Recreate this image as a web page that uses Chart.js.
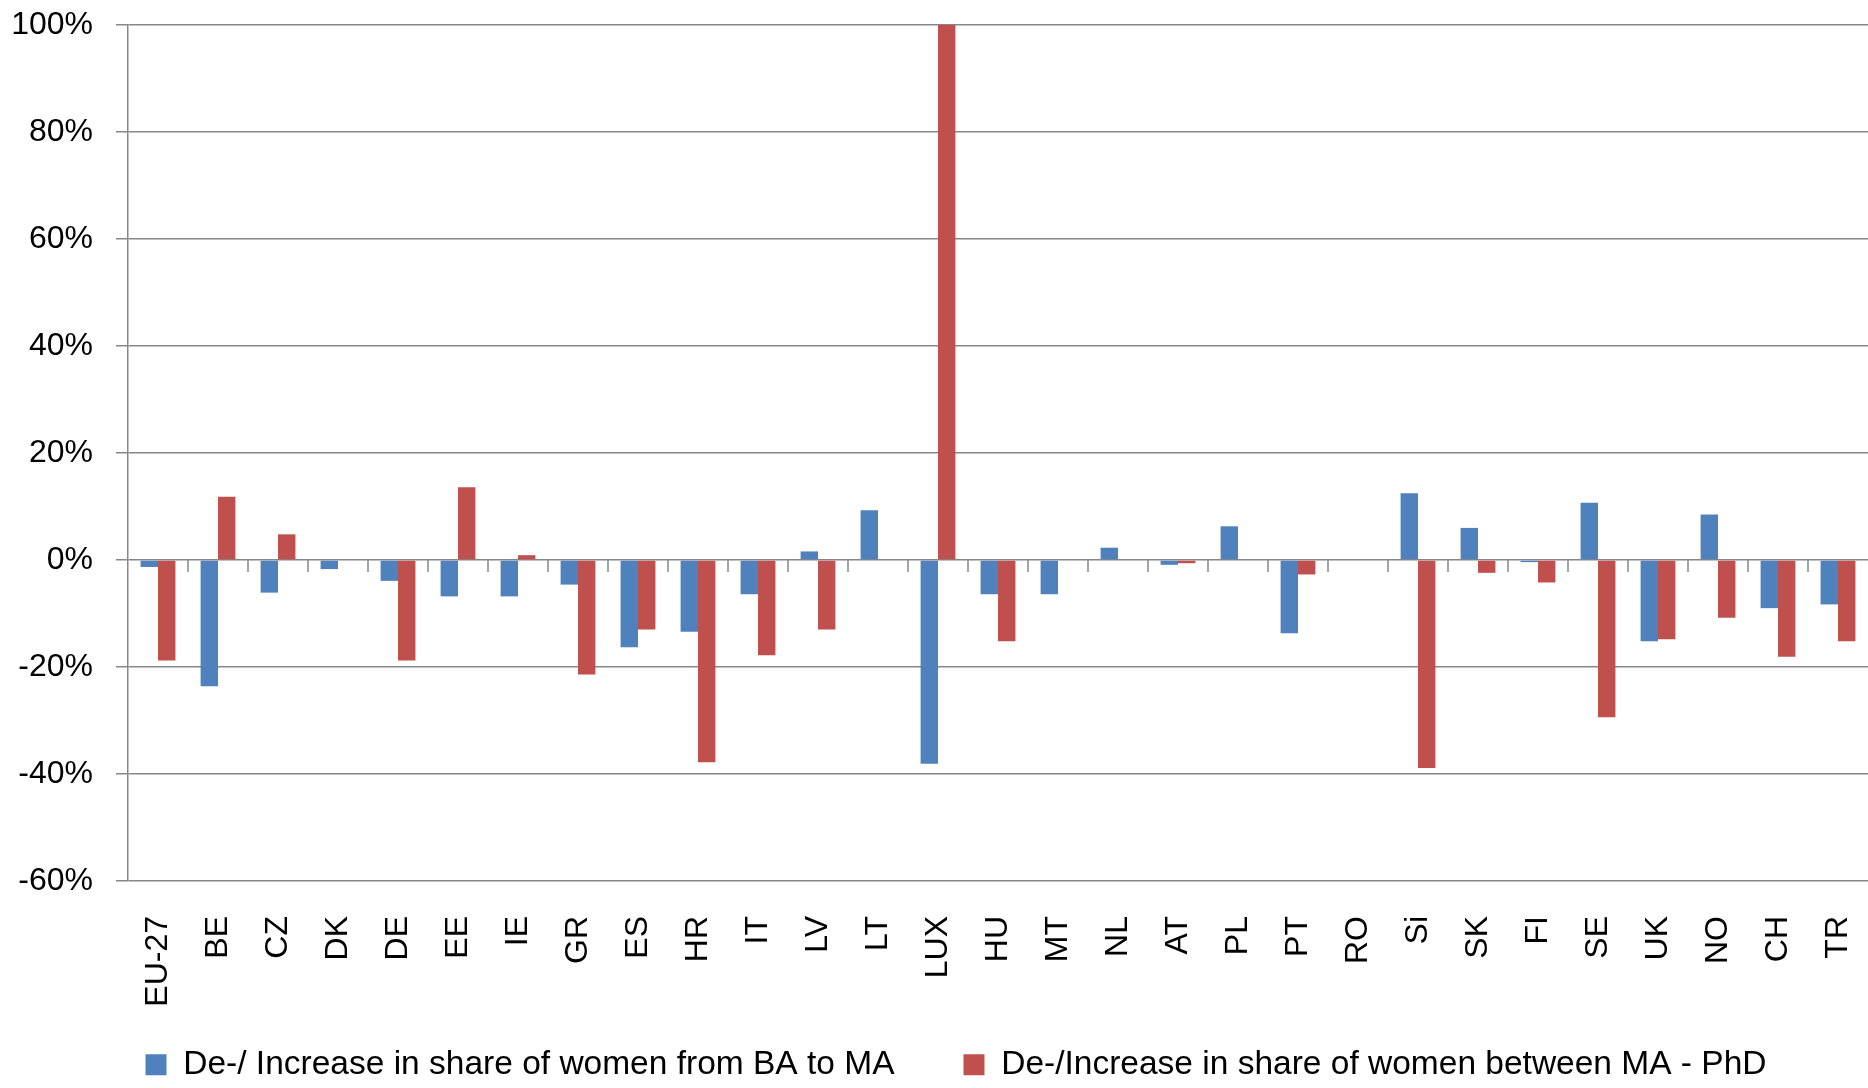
<!DOCTYPE html>
<html>
<head>
<meta charset="utf-8">
<title>Change in share of women by degree level</title>
<script src="https://cdn.jsdelivr.net/npm/chart.js@4/dist/chart.umd.min.js"></script>
<style>
  html, body { margin: 0; padding: 0; background: #ffffff; }
  #wrap { width: 1868px; height: 1088px; position: relative; }
</style>
</head>
<body>
<div id="wrap"><canvas id="chart"></canvas></div>
<script>
// Countries along the category axis
const countries = ['EU-27', 'BE', 'CZ', 'DK', 'DE', 'EE', 'IE', 'GR', 'ES', 'HR', 'IT', 'LV', 'LT', 'LUX',
  'HU', 'MT', 'NL', 'AT', 'PL', 'PT', 'RO', 'Si', 'SK', 'FI', 'SE', 'UK', 'NO', 'CH', 'TR'];

// Change (percentage points) in the share of women from BA to MA
const baToMa = [-1.3, -23.6, -6.1, -1.7, -3.9, -6.8, -6.8, -4.6, -16.3, -13.4, -6.4, 1.6, 9.3, -38.1,
  -6.4, -6.4, 2.3, -0.9, 6.3, -13.7, 0, 12.5, 6.0, -0.4, 10.7, -15.2, 8.5, -9.0, -8.3];

// Change (percentage points) in the share of women between MA and PhD
const maToPhd = [-18.8, 11.8, 4.8, 0, -18.8, 13.6, 0.9, -21.4, -13.0, -37.8, -17.8, -13.0, 0, 100,
  -15.2, 0, 0, -0.6, 0, -2.7, 0, -38.9, -2.4, -4.2, -29.4, -14.8, -10.8, -18.1, -15.2];

const seriesNames = ['De-/ Increase in share of women from BA to MA', 'De-/Increase in share of women between MA - PhD'];

// Value axis range and tick spacing (percent)
const yMin = -60, yMax = 100, yStep = 20;

const gridColor = '#878787';

// Short tick marks hanging below the zero line between categories
const zeroLineTicks = {
  id: 'zeroLineTicks',
  beforeDatasetsDraw(chart) {
    const x = chart.scales.x, y = chart.scales.y;
    const y0 = y.getPixelForValue(0);
    const ctx = chart.ctx;
    ctx.save();
    ctx.strokeStyle = gridColor;
    ctx.lineWidth = 1.5;
    ctx.beginPath();
    for (let i = 1; i < countries.length; i++) {
      const bx = (x.getPixelForValue(i - 1) + x.getPixelForValue(i)) / 2;
      ctx.moveTo(bx, y0);
      ctx.lineTo(bx, y0 + 12);
    }
    ctx.stroke();
    ctx.restore();
  }
};

new Chart(document.getElementById('chart'), {
  type: 'bar',
  data: {
    labels: countries,
    datasets: [
      { label: seriesNames[0], data: baToMa, backgroundColor: '#4F81BD', borderWidth: 0 },
      { label: seriesNames[1], data: maToPhd, backgroundColor: '#C0504D', borderWidth: 0 }
    ]
  },
  options: {
    responsive: true,
    maintainAspectRatio: false,
    animation: false,
    datasets: { bar: { categoryPercentage: 0.58, barPercentage: 1.0 } },
    layout: { padding: { left: 44, right: 0, top: 25, bottom: -3.5 } },
    plugins: {
      tooltip: { enabled: false },
      legend: {
        position: 'bottom',
        labels: {
          color: '#000',
          font: { family: 'Liberation Sans', size: 33.5 },
          boxWidth: 21,
          boxHeight: 21,
          padding: 69
        }
      }
    },
    scales: {
      x: {
        grid: { display: false, drawTicks: false },
        border: { display: false },
        ticks: {
          color: '#000',
          font: { family: 'Liberation Sans', size: 32 },
          minRotation: 90,
          maxRotation: 90,
          autoSkip: false,
          padding: 35
        },
        afterFit(scale) {
          scale.paddingLeft = 0;
          scale.paddingRight = 0;
          scale.height = 98;
          // rotated labels run past the shortened axis box; keep them unclipped
          scale._computeLabelArea = () => undefined;
        }
      },
      y: {
        min: yMin,
        max: yMax,
        ticks: {
          stepSize: yStep,
          color: '#000',
          font: { family: 'Liberation Sans', size: 32 },
          padding: 23,
          callback: v => v + '%'
        },
        grid: { color: gridColor, lineWidth: 1.5, tickLength: 12 },
        border: { display: true, color: gridColor, width: 1.5 },
        afterFit(scale) {
          scale.paddingTop = 0;
          scale.paddingBottom = 0;
          scale.width = 84;
          // tick labels extend left of the narrowed axis box; keep them unclipped
          scale._computeLabelArea = () => undefined;
        }
      }
    }
  },
  plugins: [zeroLineTicks]
});
</script>
</body>
</html>
